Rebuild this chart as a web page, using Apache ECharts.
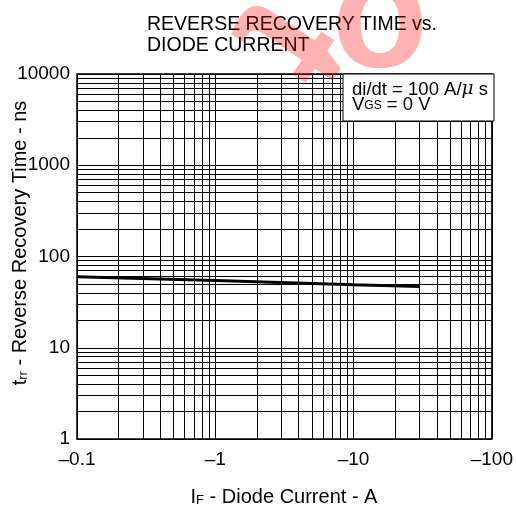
<!DOCTYPE html>
<html>
<head>
<meta charset="utf-8">
<script src="https://cdn.jsdelivr.net/npm/echarts@6/dist/echarts.min.js"></script>
<style>
  html, body { margin: 0; padding: 0; background: #fff; }
  #chart { width: 516px; height: 510px; }
</style>
</head>
<body>
<div id="chart"></div>
<script>
// diode current (magnitude, A) and reverse recovery time (ns)
const currentA = [0.1, 1, 10, 30];
const trrNs = [60, 54.5, 49, 47];

const xTicks = [0.1, 1, 10, 100];
const xTickLabels = ['\u20130.1', '\u20131', '\u201310', '\u2013100'];
const yTickLabels = ['1', '10', '100', '1000', '10000'];

// minor grid lines (2..9 in every decade)
const minorX = [0.2, 0.3, 0.4, 0.5, 0.6, 0.7, 0.8, 0.9, 2, 3, 4, 5, 6, 7, 8, 9, 20, 30, 40, 50, 60, 70, 80, 90];
const minorY = [2, 3, 4, 5, 6, 7, 8, 9, 20, 30, 40, 50, 60, 70, 80, 90,
  200, 300, 400, 500, 600, 700, 800, 900, 2000, 3000, 4000, 5000, 6000, 7000, 8000, 9000];

const FONT = '"Liberation Sans", Arial, sans-serif';
const WATERMARK = 'rgba(255,0,0,0.3)';

const chart = echarts.init(document.getElementById('chart'));

function xLabel(v) {
  const i = xTicks.findIndex(t => Math.abs(Math.log10(t) - Math.log10(v)) < 0.01);
  return i >= 0 ? xTickLabels[i] : '';
}
function yLabel(v) {
  const i = Math.round(Math.log10(v));
  return yTickLabels[i] || '';
}

chart.setOption({
  animation: false,
  backgroundColor: '#fff',
  title: {
    text: 'REVERSE RECOVERY TIME vs.\nDIODE CURRENT',
    left: 142,
    top: 9,
    textStyle: { fontFamily: FONT, fontSize: 19.5, fontWeight: 'normal', color: '#000', lineHeight: 21 }
  },
  grid: {
    left: 77, right: 22, top: 74, bottom: 71,
    show: true, borderColor: '#000', borderWidth: 1.5, backgroundColor: 'transparent'
  },
  xAxis: {
    type: 'log', logBase: 10, min: 0.1, max: 100,
    axisLine: { show: false },
    axisTick: { show: false },
    axisLabel: { fontFamily: FONT, fontSize: 19, color: '#000', margin: 11, formatter: xLabel },
    splitLine: { show: true, lineStyle: { color: '#000', width: 1 } }
  },
  yAxis: {
    type: 'log', logBase: 10, min: 1, max: 10000,
    axisLine: { show: false },
    axisTick: { show: false },
    axisLabel: { fontFamily: FONT, fontSize: 19, color: '#000', margin: 7, formatter: yLabel },
    splitLine: { show: true, lineStyle: { color: '#000', width: 1 } }
  },
  series: [{
    type: 'line',
    data: currentA.map((x, i) => [x, trrNs[i]]),
    showSymbol: false,
    lineStyle: { color: '#000', width: 3 },
    z: 5,
    markLine: {
      silent: true,
      symbol: 'none',
      label: { show: false },
      lineStyle: { color: '#000', width: 1, type: 'solid' },
      data: minorX.map(v => ({ xAxis: v })).concat(minorY.map(v => ({ yAxis: v })))
    }
  }],
  graphic: [
    {
      type: 'rect', z: 50,
      shape: { x: 343, y: 74, width: 151, height: 47 },
      style: { fill: '#fff', stroke: '#000', lineWidth: 1 }
    },
    {
      type: 'text', z: 51, x: 352, y: 82,
      style: {
        text: '{a|di/dt = 100 A/}{mu|\u03bc}{a| s}\n{a|V}{s|GS}{a| = 0 V}',
        rich: {
          a: { fontFamily: FONT, fontSize: 18.5, fill: '#000', lineHeight: 15 },
          mu: { fontFamily: '"DejaVu Serif", serif', fontStyle: 'italic', fontSize: 18.5, fill: '#000', lineHeight: 15 },
          s: { fontFamily: FONT, fontSize: 12, fill: '#000', lineHeight: 15, verticalAlign: 'bottom' }
        }
      }
    },
    {
      type: 'text', z: 51, x: 284, y: 497,
      style: {
        text: '{a|I}{s|F}{a| - Diode Current - A}',
        align: 'center', verticalAlign: 'middle',
        rich: {
          a: { fontFamily: FONT, fontSize: 20, fill: '#000' },
          s: { fontFamily: FONT, fontSize: 13, fill: '#000', verticalAlign: 'bottom' }
        }
      }
    },
    {
      type: 'text', z: 51, x: 20, y: 243, rotation: Math.PI / 2,
      style: {
        text: '{a|t}{s|rr}{a| - Reverse Recovery Time - ns}',
        align: 'center', verticalAlign: 'middle',
        rich: {
          a: { fontFamily: FONT, fontSize: 20, fill: '#000' },
          s: { fontFamily: FONT, fontSize: 13, fill: '#000', verticalAlign: 'bottom' }
        }
      }
    },
    // watermark fragments
    {
      type: 'text', z: 100, x: 284, y: 38, rotation: -Math.PI * 124 / 180,
      style: {
        text: 't', align: 'center', verticalAlign: 'middle',
        fontFamily: FONT, fontSize: 170, fontWeight: 'bold', fill: WATERMARK
      }
    },
    {
      type: 'text', z: 100, x: 380, y: 22,
      style: {
        text: 'o', align: 'center', verticalAlign: 'middle',
        fontFamily: FONT, fontSize: 158, fontWeight: 'bold', fill: WATERMARK
      }
    }
  ]
});
</script>
</body>
</html>
